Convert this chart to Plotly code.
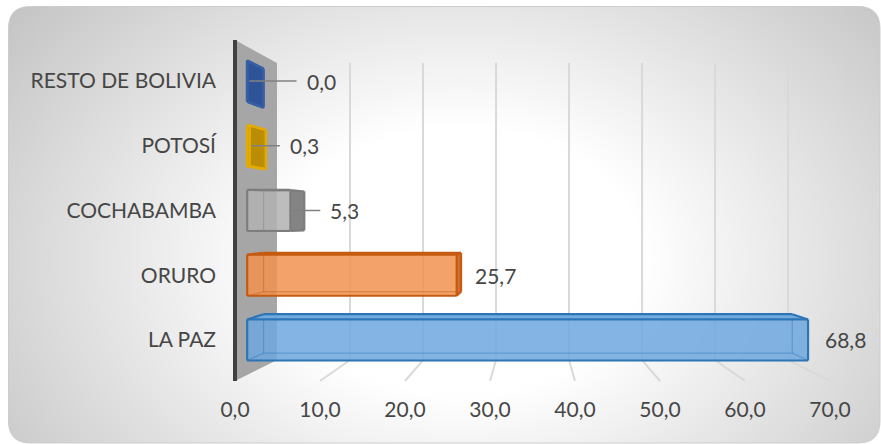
import numpy as np
import plotly.graph_objects as go

# ---- data -------------------------------------------------------------
categories = ["LA PAZ", "ORURO", "COCHABAMBA", "POTOSÍ", "RESTO DE BOLIVIA"]
values = [68.8, 25.7, 5.3, 0.3, 0.0]
x_ticks = [0, 10, 20, 30, 40, 50, 60, 70]

# ---- styles -----------------------------------------------------------
face_colors = ["rgb(112,168,222)", "rgb(241,147,82)", "rgb(178,178,178)",
               "rgb(196,148,8)", "rgb(46,84,152)"]
side_colors = ["rgb(80,138,200)", "rgb(206,104,38)", "rgb(122,122,122)",
               "rgb(186,140,4)", "rgb(44,82,150)"]
edge_colors = ["rgb(46,117,182)", "rgb(197,90,17)", "rgb(125,125,125)",
               "rgb(228,170,0)", "rgb(56,94,166)"]
label_gap_px = [15, 12, 24, 22, 41]        # space between bar end and its label
use_leader = [False, False, True, True, True]
TEXT = "#464646"
FONT = "Lato"
FW = 400
FS = 21

W, H = 881, 444
# front-plane mapping (pixels per value unit / per category row)
X0, SX = 235.0, 8.5
Y0, SY = 344.7, 67.26
XR = [-X0 / SX, (W - X0) / SX]
YR = [(Y0 - H) / SY, Y0 / SY]

# perspective: vanishing point and shrink with depth (0 = front, 1 = back)
VX = (532.8 - X0) / SX
VY = (Y0 - 218.6) / SY
KX, KY = 0.141, 0.129
U_FLOOR = (Y0 - 381.0) / SY
U_TOP = (Y0 - 40.0) / SY
D1, D2 = 0.29, 0.68          # depth span of the bars
HB = 0.317                   # half bar thickness (rows)


def proj(v, u, d):
    return VX + (v - VX) * (1 - KX * d), VY + (u - VY) * (1 - KY * d)


def px_x(p):
    return (p - X0) / SX


def px_y(p):
    return (Y0 - p) / SY


def hull(pts):
    pts = sorted(set(pts))
    if len(pts) <= 2:
        return pts

    def cross(o, a, b):
        return (a[0] - o[0]) * (b[1] - o[1]) - (a[1] - o[1]) * (b[0] - o[0])
    lower, upper = [], []
    for p in pts:
        while len(lower) >= 2 and cross(lower[-2], lower[-1], p) <= 0:
            lower.pop()
        lower.append(p)
    for p in reversed(pts):
        while len(upper) >= 2 and cross(upper[-2], upper[-1], p) <= 0:
            upper.pop()
        upper.append(p)
    return lower[:-1] + upper[:-1]


def poly(points, fill, line=None, width=0):
    xs = [p[0] for p in points] + [points[0][0]]
    ys = [p[1] for p in points] + [points[0][1]]
    return go.Scatter(x=xs, y=ys, mode="lines", fill="toself", fillcolor=fill,
                      line=dict(color=line or "rgba(0,0,0,0)", width=width),
                      hoverinfo="skip", showlegend=False)


def segs(pairs, color, width):
    xs, ys = [], []
    for a, b in pairs:
        xs += [a[0], b[0], None]
        ys += [a[1], b[1], None]
    return go.Scatter(x=xs, y=ys, mode="lines", line=dict(color=color, width=width),
                      hoverinfo="skip", showlegend=False)


def rgba(c, a):
    return c.replace("rgb(", "rgba(").replace(")", f",{a})")


fig = go.Figure()

# ---- radial background shading ---------------------------------------
gx = np.linspace(0, W, 100)
gy = np.linspace(H, 0, 50)
PX, PY = np.meshgrid(gx, gy)
r = np.sqrt(((PX - 460) / 520.0) ** 2 + ((PY - 260) / 380.0) ** 2)
shade = 255 - 80 * np.clip(r - 0.35, 0, None)
shade = np.clip(shade, 197, 255)
fig.add_trace(go.Heatmap(x=px_x(gx), y=px_y(gy), z=(shade - 197) / 58.0,
                         zmin=0, zmax=1, zsmooth="best", showscale=False,
                         colorscale=[[0, "rgb(197,197,197)"], [1, "rgb(255,255,255)"]],
                         hoverinfo="skip"))

# ---- back wall and floor gridlines -------------------------------------
grid = "rgb(217,217,217)"
back_lines = [(proj(t, U_FLOOR, 1), proj(t, U_TOP, 1)) for t in x_ticks[1:]]
floor_lines = [(proj(t, U_FLOOR, 1), proj(t, U_FLOOR, 0)) for t in x_ticks[1:]]
fig.add_trace(segs(back_lines, grid, 2))
fig.add_trace(segs(floor_lines, grid, 2))

# ---- side wall ---------------------------------------------------------
wall = [proj(0, U_FLOOR, 0), proj(0, U_TOP, 0), proj(0, U_TOP, 1), proj(0, U_FLOOR, 1)]
fig.add_trace(poly(wall, "rgb(166,166,166)"))
fig.add_trace(go.Scatter(x=[0, 0], y=[U_FLOOR, U_TOP], mode="lines",
                         line=dict(color="rgb(64,64,64)", width=4),
                         hoverinfo="skip", showlegend=False))

# ---- 3-D boxes -----------------------------------------------------------
label_pos = []
names = "abc"
for i, (cat, v) in enumerate(zip(categories, values)):
    lo, hi = i - HB, i + HB
    corners = {}
    for a in (0, 1):
        for b in (0, 1):
            for c in (0, 1):
                corners[(a, b, c)] = proj(v if a else 0, hi if b else lo, D2 if c else D1)
    # faces facing the viewer
    vis = {("c", 0)}
    if hi < VY:
        vis.add(("b", 1))
    if lo > VY:
        vis.add(("b", 0))
    if v < VX:
        vis.add(("a", 1))
    edges_vis, edges_hid = [], []
    keys = list(corners)
    for k1 in keys:
        for k2 in keys:
            if k1 < k2 and sum(x != y for x, y in zip(k1, k2)) == 1:
                fixed = [(names[j], k1[j]) for j in range(3) if k1[j] == k2[j]]
                pair = (corners[k1], corners[k2])
                if any(f in vis for f in fixed):
                    edges_vis.append(pair)
                else:
                    edges_hid.append(pair)

    outline = hull(list(corners.values()))
    fig.add_trace(poly(outline, rgba(face_colors[i], 0.86)))
    fig.add_trace(segs(edges_hid, rgba(edge_colors[i], 0.4), 1.3))
    for ax_name, val in vis:
        if ax_name == "c":
            continue
        j = names.index(ax_name)
        quad = [k for k in keys if k[j] == val]
        pts = hull([corners[k] for k in quad])
        col = side_colors[i] if ax_name == "a" else face_colors[i]
        if len(pts) >= 3:
            fig.add_trace(poly(pts, rgba(col, 0.85)))
    fig.add_trace(segs(edges_vis, edge_colors[i], 2.2 if v > 1 else 2.6))

    right = max(p[0] for p in outline)
    yc = proj(v, i, D1)[1]
    label_pos.append((right, yc))
    if use_leader[i]:
        x_start = proj(v, i, D1)[0] + 2 / SX
        x_end = right + (label_gap_px[i] - 8) / SX
        fig.add_trace(go.Scatter(x=[x_start, x_end], y=[yc, yc], mode="lines",
                                 line=dict(color="rgb(128,128,128)", width=1.5),
                                 hoverinfo="skip", showlegend=False))

for i, v in enumerate(values):
    right, yc = label_pos[i]
    fig.add_annotation(x=right, y=yc, xref="x", yref="y", text=f"{v:.1f}".replace(".", ","),
                       showarrow=False, xanchor="left", yanchor="middle",
                       xshift=label_gap_px[i],
                       font=dict(family=FONT, size=FS, color=TEXT, weight=FW))

# ---- rounded frame (mask outside, thin edge) --------------------------
fl, ft, fr, fb, rad = 8.5, 6.5, 880.0, 443.0, 22.0


def P(x, y):
    return f"{px_x(x):.4f},{px_y(y):.4f}"


outer = f"M{P(-20, -20)} L{P(W + 20, -20)} L{P(W + 20, H + 20)} L{P(-20, H + 20)} Z"
inner = (f"M{P(fl + rad, ft)} L{P(fr - rad, ft)} Q{P(fr, ft)} {P(fr, ft + rad)} "
         f"L{P(fr, fb - rad)} Q{P(fr, fb)} {P(fr - rad, fb)} "
         f"L{P(fl + rad, fb)} Q{P(fl, fb)} {P(fl, fb - rad)} "
         f"L{P(fl, ft + rad)} Q{P(fl, ft)} {P(fl + rad, ft)} Z")
fig.add_shape(type="path", xref="x", yref="y", path=outer + " " + inner,
              fillrule="evenodd", fillcolor="white",
              line=dict(color="rgb(205,205,205)", width=1))

row_centers = [proj(0, i, D1)[1] for i in range(len(categories))]
tick_font = dict(family=FONT, size=FS, color=TEXT, weight=FW)

fig.update_layout(
    width=W, height=H, autosize=False,
    margin=dict(l=0, r=0, t=0, b=0),
    paper_bgcolor="white", plot_bgcolor="white",
    separators=",.",
    showlegend=False, hovermode=False,
    xaxis=dict(range=XR, showgrid=False, zeroline=False, showline=False,
               tickvals=x_ticks, tickformat=".1f", ticks="",
               anchor="free", position=(H - 381.0) / H, ticklabelstandoff=14,
               tickfont=tick_font, fixedrange=True),
    yaxis=dict(range=YR, showgrid=False, zeroline=False, showline=False,
               tickvals=row_centers, ticktext=categories, ticks="",
               anchor="free", position=222.0 / W, ticklabelstandoff=6,
               tickfont=tick_font, fixedrange=True),
)

fig.write_html("out.html")
